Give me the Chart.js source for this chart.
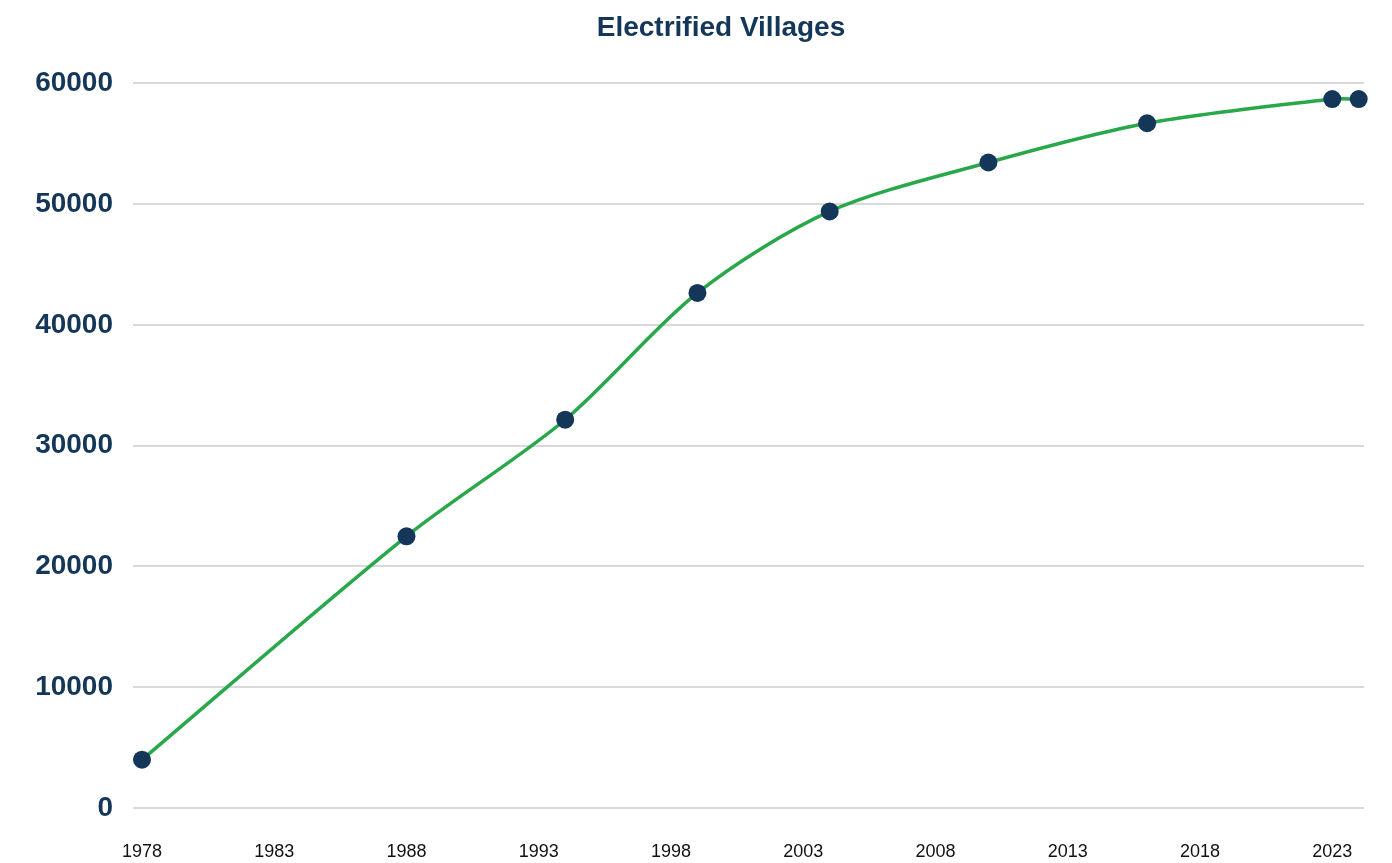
<!DOCTYPE html>
<html>
<head>
<meta charset="utf-8">
<title>Electrified Villages</title>
<script src="https://cdn.jsdelivr.net/npm/chart.js@4/dist/chart.umd.min.js"></script>
<style>
  html, body { margin: 0; padding: 0; background: #fff; }
  #wrap { width: 1392px; height: 863px; }
</style>
</head>
<body>
<div id="wrap"><canvas id="myChart"></canvas></div>
<script>
"use strict";

const years = [1978, 1988, 1994, 1999, 2004, 2010, 2016, 2023, 2024];
const villages = [4000, 22500, 32150, 42650, 49400, 53450, 56700, 58700, 58700];
const xTicks = [1978, 1983, 1988, 1993, 1998, 2003, 2008, 2013, 2018, 2023];
const yTicks = [0, 10000, 20000, 30000, 40000, 50000, 60000];
const chartTitle = 'Electrified Villages';

const navy = '#143659';
const ctx = document.getElementById('myChart');

// title drawn by hand, a bit right of the canvas centre like the original
const titlePlugin = {
    id: 'offsetTitle',
    afterDraw(chart) {
        const c = chart.ctx;
        c.save();
        c.fillStyle = navy;
        c.font = 'bold 28px "Liberation Sans", Arial, sans-serif';
        c.textAlign = 'center';
        c.textBaseline = 'middle';
        c.fillText(chartTitle, 721, 28);
        c.restore();
    }
};

new Chart(ctx, {
    type: 'line',
    data: {
        datasets: [{
            label: chartTitle,
            data: years.map((y, i) => ({ x: y, y: villages[i] })),
            borderColor: '#28a84a',
            borderWidth: 3.5,
            tension: 0.3,
            pointRadius: 9,
            pointHoverRadius: 9,
            pointBackgroundColor: navy,
            pointBorderColor: navy,
            pointBorderWidth: 0,
            clip: false
        }]
    },
    options: {
        responsive: true,
        maintainAspectRatio: false,
        animation: false,
        layout: {
            padding: { left: 0, right: 28, top: 0, bottom: 0 }
        },
        plugins: {
            legend: { display: false },
            tooltip: { enabled: false },
            // only keeps the space, the text itself comes from titlePlugin
            title: {
                display: true,
                text: chartTitle,
                color: 'rgba(0,0,0,0)',
                font: { family: 'Liberation Sans, Arial, sans-serif', size: 27, weight: 'bold' },
                padding: { top: 12, bottom: 39 }
            }
        },
        scales: {
            x: {
                type: 'linear',
                min: 1977.66,
                max: 2024.2,
                grid: { display: false },
                border: { display: false },
                afterBuildTicks: (axis) => {
                    axis.ticks = xTicks.map(v => ({ value: v }));
                },
                afterFit: (axis) => { axis.height = 55; },
                ticks: {
                    autoSkip: false,
                    maxRotation: 0,
                    color: '#111',
                    padding: 25,
                    font: { family: 'Liberation Sans, Arial, sans-serif', size: 18 },
                    callback: (v) => String(v)
                }
            },
            y: {
                min: 0,
                max: 60000,
                afterBuildTicks: (axis) => {
                    axis.ticks = yTicks.map(v => ({ value: v }));
                },
                afterFit: (axis) => { axis.width = 133; },
                grid: { color: '#d9d9d9', lineWidth: 2, drawTicks: false },
                border: { display: false },
                ticks: {
                    color: navy,
                    padding: 20,
                    font: { family: 'Liberation Sans, Arial, sans-serif', size: 28, weight: 'bold' },
                    callback: (v) => String(v)
                }
            }
        }
    },
    plugins: [titlePlugin]
});
</script>
</body>
</html>
